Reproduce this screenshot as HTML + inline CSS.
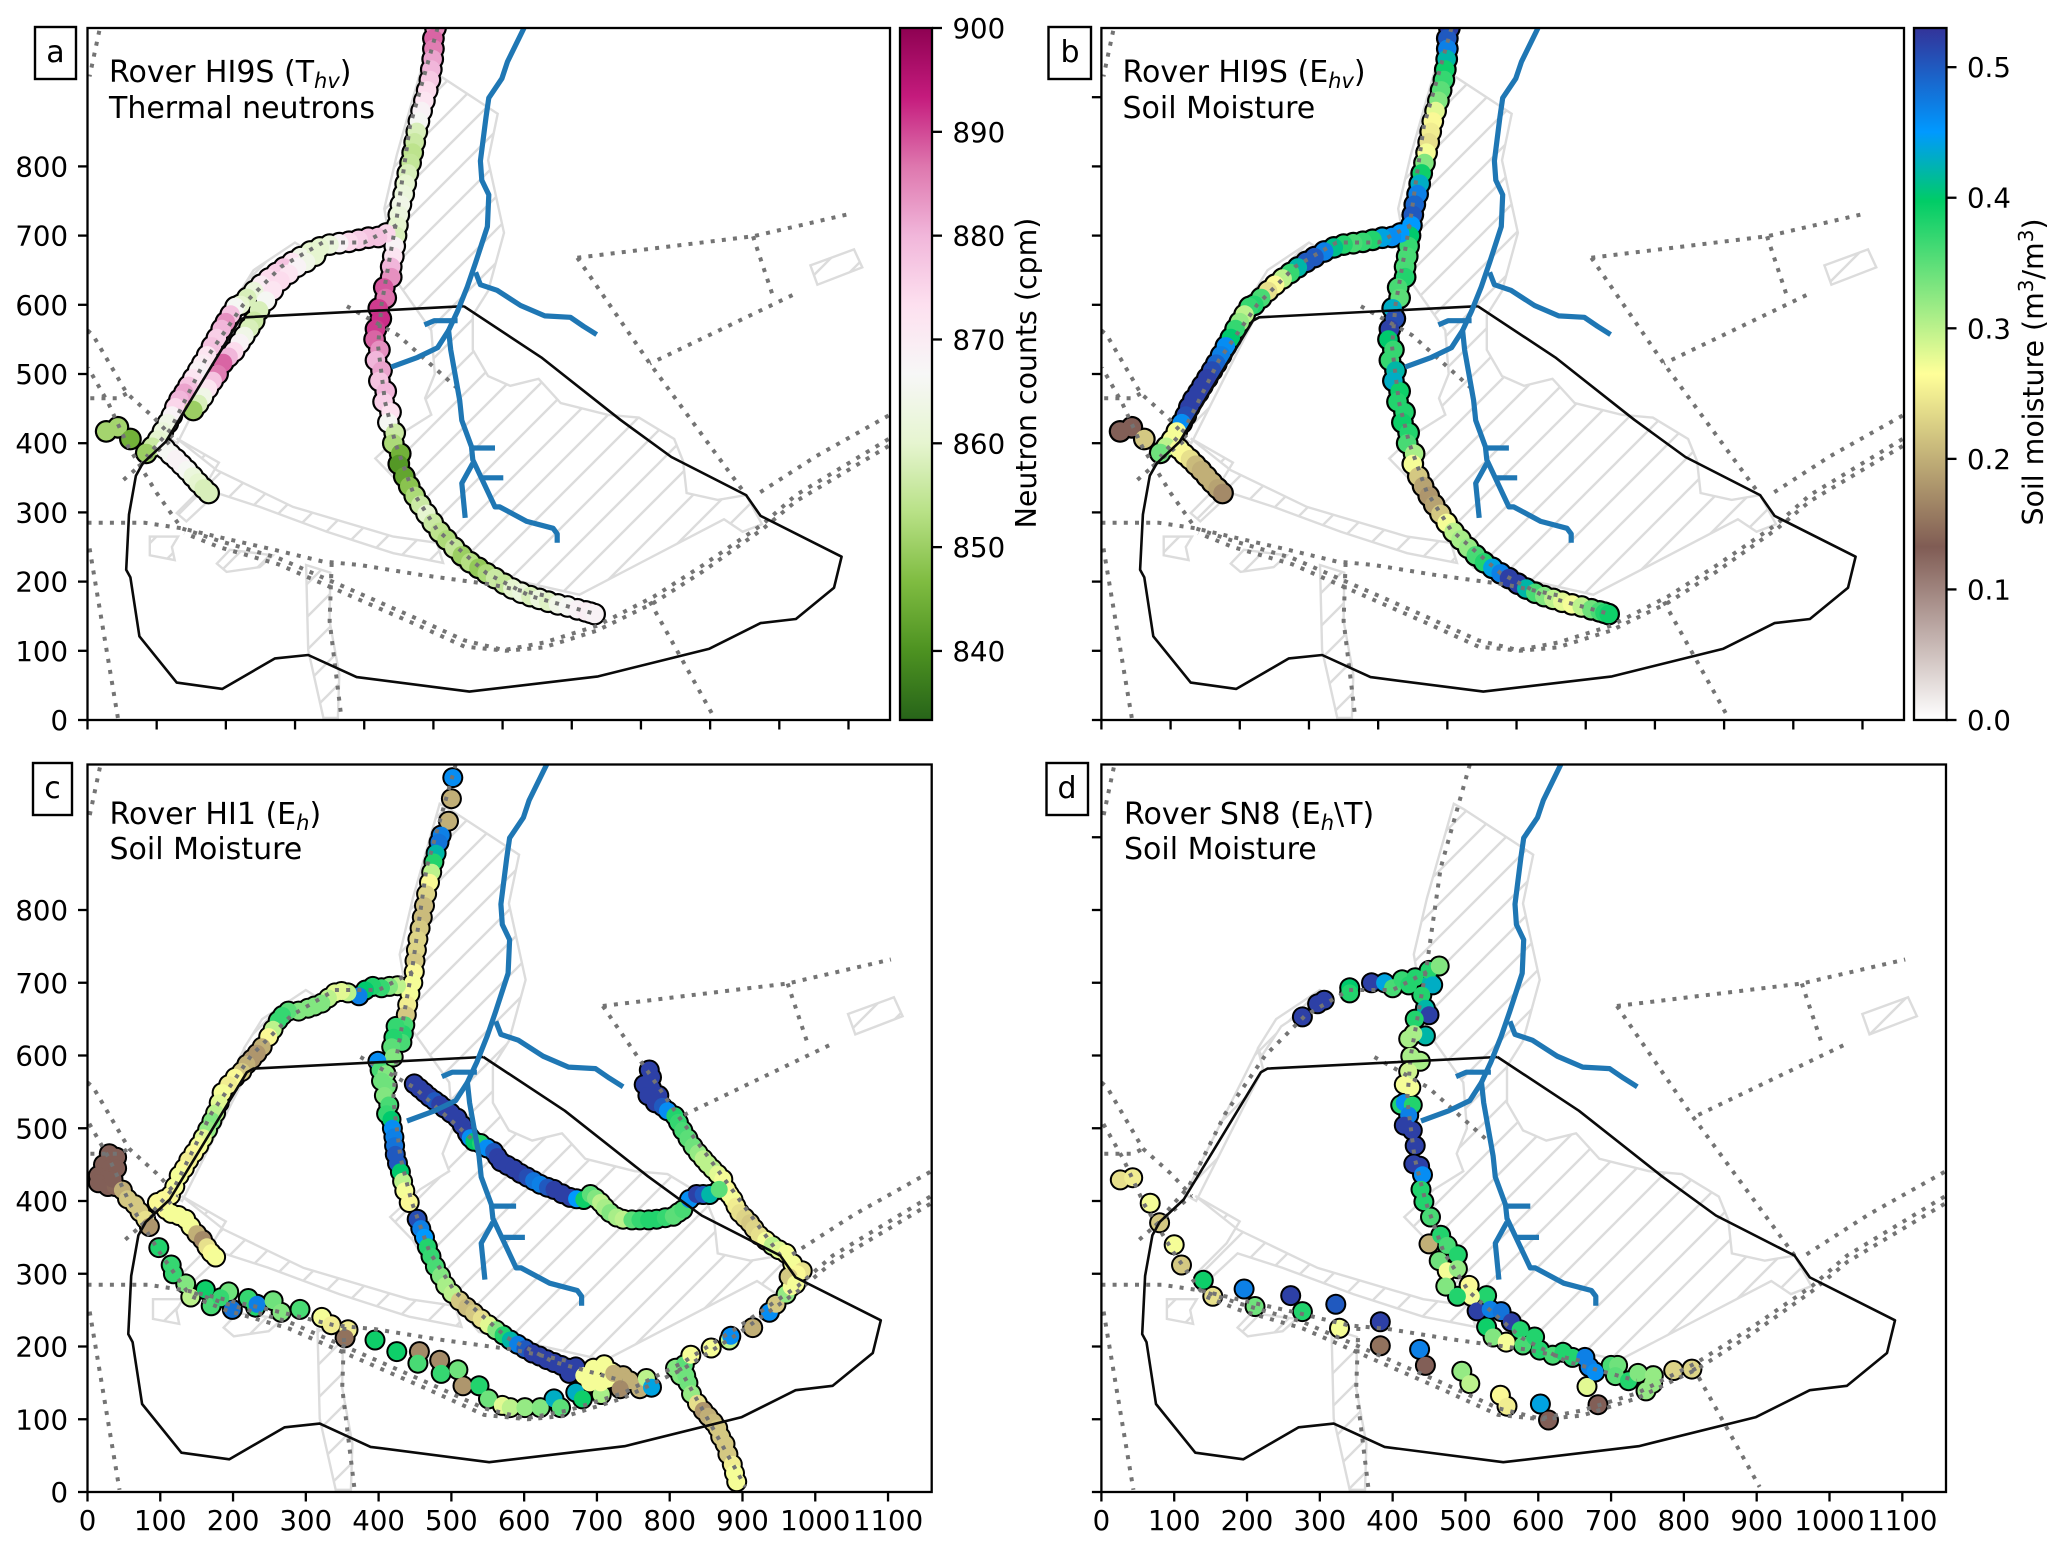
<!DOCTYPE html>
<html>
<head>
<meta charset="utf-8">
<title>Rover soil moisture maps</title>
<style>
html,body{margin:0;padding:0;background:#fff}
svg{display:block}
text{font-family:"DejaVu Sans","Liberation Sans",sans-serif;font-size:27.6px;fill:#000}
text.big{font-size:30px}
text.cbt{font-size:28.4px}
</style>
</head>
<body>
<svg id="fig" xmlns="http://www.w3.org/2000/svg" width="2067" height="1551" viewBox="0 0 2067 1551">
<defs>
<pattern id="hatch" patternUnits="userSpaceOnUse" width="33" height="33">
<path d="M-3 3L3 -3M0 33L33 0M30 36L36 30" stroke="#dcdcdc" stroke-width="2.4" fill="none"/>
</pattern>
<linearGradient id="cmapNeutron" x1="0" y1="1" x2="0" y2="0"></linearGradient>
<linearGradient id="cmapSoil" x1="0" y1="1" x2="0" y2="0"></linearGradient>
</defs>
<g id="panels"></g>
<g id="colorbars"></g>

<g>
<rect x="35" y="27" width="41" height="52" fill="#fff" stroke="#000" stroke-width="2.4"/>
<text class="big" x="55.5" y="62" text-anchor="middle">a</text>
<text class="big" x="109" y="82">Rover HI9S (T<tspan dy="6" font-size="21" font-style="italic">hv</tspan><tspan dy="-6">)</tspan></text>
<text class="big" x="109" y="118">Thermal neutrons</text>
</g>
<g>
<rect x="1048.5" y="27" width="42.5" height="52" fill="#fff" stroke="#000" stroke-width="2.4"/>
<text class="big" x="1070" y="62" text-anchor="middle">b</text>
<text class="big" x="1122.5" y="82">Rover HI9S (E<tspan dy="6" font-size="21" font-style="italic">hv</tspan><tspan dy="-6">)</tspan></text>
<text class="big" x="1122.5" y="118">Soil Moisture</text>
</g>
<g>
<rect x="33" y="763" width="39" height="52" fill="#fff" stroke="#000" stroke-width="2.4"/>
<text class="big" x="52.5" y="798" text-anchor="middle">c</text>
<text class="big" x="109.5" y="824">Rover HI1 (E<tspan dy="6" font-size="21" font-style="italic">h</tspan><tspan dy="-6">)</tspan></text>
<text class="big" x="109.5" y="859">Soil Moisture</text>
</g>
<g>
<rect x="1046.5" y="763" width="41.5" height="52" fill="#fff" stroke="#000" stroke-width="2.4"/>
<text class="big" x="1067" y="798" text-anchor="middle">d</text>
<text class="big" x="1124" y="824">Rover SN8 (E<tspan dy="6" font-size="21" font-style="italic">h</tspan><tspan dy="-6">\T)</tspan></text>
<text class="big" x="1124" y="859">Soil Moisture</text>
</g>
<text class="cbt" transform="translate(1036,373) rotate(-90)" text-anchor="middle">Neutron counts (cpm)</text>
<text class="cbt" transform="translate(2043,372) rotate(-90)" text-anchor="middle">Soil moisture (m<tspan dy="-10" font-size="20">3</tspan><tspan dy="10">/m</tspan><tspan dy="-10" font-size="20">3</tspan><tspan dy="10">)</tspan></text>
</svg>

<script>
// ---------- shared axis ticks ----------
const xTickValues = [0,100,200,300,400,500,600,700,800,900,1000,1100];
const yTickValues = [0,100,200,300,400,500,600,700,800];
const neutronTicks = [840,850,860,870,880,890,900];
const soilTicks = [0,0.1,0.2,0.3,0.4,0.5];
const neutronMin = 833.35, neutronMax = 900, soilMin = 0, soilMax = 0.53;

// ---------- map features (map metres, flat x,y lists) ----------
const boundaryLine = [544,598,228,582,219,577,113,402,80,371,70,353,60,297,56,217,62,206,75,121,129,54,195,45,238,70,271,89,319,94,389,62,552,41,738,63,899,103,973,140,1024,146,1079,191,1090,236,973,295,952,325,844,380,770,434,656,524,544,598];
const riverMain = [631,1000,607,951,599,927,580,899,576,871,568,808,570,780,580,759,578,713,561,661,549,626,535,591,522,563,525,535,538,462,541,433,555,395,557,376,589,308,596,308,635,287,673,277,679,269,679,256];
const riverEast = [561,647,568,629,592,621,626,599,661,584,698,582,717,569,736,557];
const riverWest = [522,563,506,538,477,524,439,510];
const riverStubA = [487,571,501,577,535,577];
const riverStubB = [556,393,589,393];
const riverStubC = [570,350,601,350];
const riverSouth = [557,371,541,342,546,292];
const roadList = [
 [1158,406,1024,325,976,283,890,224,818,178,736,136,660,112,602,101,545,115,468,150,372,192,276,234,190,259,136,277,100,328,59,395,30,458,1,509],
 [1158,396,1024,316,976,276,890,215,818,169,736,129,660,105,605,100,545,106,468,141,372,183,276,225,190,250,140,270],
 [1158,440,1053,381,966,325],
 [0,563,8,556,57,472,95,438,124,407],
 [4,465,44,465,57,472],
 [52,347,90,380,124,407],
 [0,285,83,285,136,277,200,262,270,246,340,229,394,224,480,210,538,202,583,196,660,180],
 [3,248,44,3],
 [17,996,3,930],
 [353,227,350,143,367,3],
 [813,171,904,7],
 [375,598,449,556,535,479],
 [708,668,962,699,1104,732],
 [962,699,990,615],
 [1019,614,813,515],
 [708,668,813,515,952,325],
 [506,1000,466,858,447,725,425,600,420,540,430,460,445,400,470,330,505,275,577,212,640,179,735,153],
 [447,715,400,690,340,690,280,655,225,600,170,520,120,420,85,380]
];
const hatchList = [
 [484,946,497,939,561,897,593,876,579,809,602,704,579,620,557,585,557,535,579,497,611,483,652,493,684,458,752,441,797,437,848,406,861,374,866,328,911,318,952,325,975,283,947,272,920,290,711,181,538,220,484,283,447,346,416,378,457,416,497,441,488,465,502,500,497,563,447,634,429,739,447,816],
 [129,407,187,361,297,308,442,265,505,256,514,227,442,241,346,272,249,308,187,328,143,287,129,299,172,342,190,372],
 [90,265,131,265,122,250,126,231,90,238],
 [187,226,206,246,268,238,249,221,201,214],
 [316,224,351,213,350,143,364,66,362,3,341,3,319,101],
 [1045,657,1108,680,1120,654,1055,629],
 [115,409,215,609,222,582,130,400],
 [220,599,247,640,311,683,300,690,240,650,215,610]
];

// ---------- Rover HI9S route (panels a and b) ----------
const mainX = [503,500,500,499,497,495,491,487,483,479,
 476,473,470,467,463,460,457,453,450,448,
 446,444,442,439,439,429,431,421,424,417,
 415,422,417,425,422,431,428,438,435,444,
 442,452,450,458,465,473,481,490,499,509,
 519,530,541,553,565,577,589,602,614,627,
 640,653,666,680,694,708,720,727,733];
const mainY = [1000,985,970,955,940,925,910,895,880,865,
 850,835,820,805,790,775,760,745,730,715,
 700,685,670,655,640,625,610,595,580,565,
 550,535,520,505,490,475,460,445,430,415,
 400,385,370,352,338,324,311,298,285,272,
 261,249,238,228,220,212,205,197,190,184,
 179,175,171,167,164,160,157,155,153];
const thermalMain = [884,888,886,882,880,877,874,872,868,866,
 858,856,854,855,858,860,862,864,862,860,
 858,868,872,880,884,889,887,891,892,891,
 888,884,880,882,878,880,876,873,866,856,
 852,845,841,843,848,852,856,860,856,854,
 852,855,850,853,849,852,856,855,860,862,
 858,862,859,864,866,868,870,869,868];
const soilMainB = [.52,.5,.47,.42,.39,.37,.35,.33,.28,.26,
 .25,.24,.27,.33,.39,.43,.47,.49,.5,.45,
 .4,.37,.36,.36,.38,.36,.35,.43,.51,.52,
 .4,.37,.37,.42,.43,.39,.38,.38,.39,.38,
 .36,.31,.27,.22,.19,.18,.19,.22,.27,.3,
 .31,.32,.36,.38,.44,.47,.52,.52,.42,.36,
 .33,.3,.28,.27,.3,.34,.36,.38,.39];
const westX = [432,420,406,392,378,364,350,336,322,308,
 296,284,273,262,251,241,231,221,214,207,
 200,194,187,180,173,166,160,153,146,140,
 133,127,122,116,109,102,94,85];
const westY = [703,698,697,694,691,689,687,683,677,669,
 662,654,646,638,629,620,610,600,597,586,
 575,565,552,540,527,515,505,494,483,473,
 463,452,440,429,417,405,395,386];
const thermalWest = [875,878,878,876,874,868,862,860,860,864,
 872,878,876,874,870,862,858,860,866,878,
 884,880,876,878,872,870,868,872,878,882,
 880,875,868,864,862,860,856,850];
const soilWestB = [.45,.46,.44,.38,.37,.36,.38,.41,.47,.5,
 .5,.42,.37,.3,.26,.24,.36,.38,.37,.3,
 .32,.37,.4,.46,.47,.49,.51,.52,.52,.52,
 .52,.52,.51,.46,.27,.27,.3,.34];
const spurX = [112,120,128,136,144,152,160,168,175];
const spurY = [392,384,377,369,361,352,343,335,328];
const thermalSpur = [866,866,868,868,866,862,860,858,858];
const soilSpurB = [.27,.26,.24,.21,.2,.2,.2,.19,.17];
const isoX = [27,44,62];
const isoY = [417,423,406];
const thermalIso = [851,851,845];
const soilIsoB = [.13,.13,.22];
const lowerX = [329,316,303,291,279,268,258,248,241,234,227,220,212,204,196,188,181,174,167,160,153];
const lowerY = [671,662,655,645,635,621,606,592,577,566,555,545,533,525,516,500,490,479,467,457,448];
const thermalLower = [860,864,868,872,874,872,866,858,856,858,864,868,874,880,888,886,878,872,864,858,850];

// ---------- Rover HI1 (panel c) ----------
const cMainX = [502,500,496,486,483,479,476,473,470,466,
 463,460,457,454,452,450,449,447,443,440,
 438,436,434,432,424,421,418,420,399,402,
 410,404,412,408,414,411,417,419,421,422,
 423,426,430,433,436,442,453,458,463,467,
 472,478,485,492,501,511,521,531,541,551,
 561,571,581,591,601,611,621,631,641,651,661,671,662];
const cMainY = [982,953,922,903,893,878,866,852,838,822,
 806,790,775,760,745,730,715,700,685,670,
 656,642,630,618,640,625,612,598,592,580,
 575,565,558,545,532,520,512,500,488,476,
 464,452,440,427,414,398,375,362,350,337,
 324,310,297,284,273,263,254,246,238,230,
 223,216,209,203,197,191,187,182,178,174,170,172,163];
const cMainV = [.46,.2,.2,.47,.48,.42,.38,.3,.26,.23,
 .21,.21,.22,.23,.23,.22,.26,.27,.27,.25,
 .22,.36,.38,.36,.37,.38,.35,.33,.46,.36,
 .33,.34,.34,.33,.36,.37,.4,.46,.47,.48,
 .5,.5,.4,.3,.27,.26,.51,.47,.45,.38,
 .37,.36,.33,.31,.3,.22,.21,.22,.24,.28,
 .33,.38,.42,.47,.5,.52,.52,.52,.52,.52,.52,.52,.52];
const cWestX = [426,415,404,392,382,373,358,349,340,331,
 322,312,303,290,276,268,262,255,249,240,
 233,226,219,212,203,194,185,181,176,171,
 165,159,153,146,139,133,126,120,114,105,96];
const cWestY = [696,695,693,695,690,682,686,688,686,679,
 672,668,665,661,661,655,648,636,626,612,
 603,595,588,578,570,560,549,535,521,510,
 498,487,476,466,456,445,435,420,408,402,398];
const cWestV = [.3,.33,.37,.38,.4,.47,.3,.28,.28,.3,
 .33,.33,.33,.33,.35,.37,.37,.3,.26,.2,
 .18,.18,.2,.22,.26,.25,.27,.28,.3,.33,
 .32,.28,.27,.26,.25,.26,.27,.27,.26,.26,.26];
const cBlobX = [40,30,22,30,40,15,25,15,28,38,35,48,55,65,72,80,85,
 108,115,125,135,142,150,158,164,170,176];
const cBlobY = [460,465,450,445,445,435,430,425,420,420,430,415,403,395,385,375,365,
 388,383,380,375,365,355,347,337,329,323];
const cBlobV = [.13,.13,.13,.13,.13,.13,.13,.13,.13,.14,.13,.2,.22,.22,.22,.24,.18,
 .26,.27,.27,.27,.27,.2,.17,.24,.26,.27];
const cSouthX = [98,115,118,135,142,162,170,194,183,199,
 221,231,233,255,266,292,322,335,358,354,
 395,425,456,454,484,486,509,516,538,551,
 570,581,601,622,641,650,671,680,706,682,
 695,710,705,690,715,720,736,745,732,759,768,775,723];
const cSouthY = [336,312,300,286,268,278,256,275,267,251,
 266,254,258,263,247,251,240,230,223,212,
 209,193,193,177,181,163,168,146,146,128,
 119,116,116,116,128,116,137,128,134,160,
 170,175,150,150,155,165,160,153,142,142,156,144,163];
const cSouthV = [.38,.37,.37,.33,.3,.39,.36,.34,.37,.48,
 .37,.38,.47,.34,.33,.36,.27,.25,.25,.15,
 .39,.39,.17,.36,.17,.37,.34,.18,.38,.34,
 .28,.3,.32,.33,.43,.35,.43,.39,.31,.27,
 .27,.27,.27,.27,.27,.27,.2,.2,.17,.2,.3,.44,.2];
const cDownX = [808,820,815,825,822,830,838,846,853,860,866,870,876,880,886,889,892];
const cDownY = [170,175,160,150,160,135,122,112,104,96,88,76,66,52,38,26,14];
const cDownV = [.33,.35,.33,.34,.34,.32,.24,.18,.2,.21,.22,.22,.22,.22,.25,.27,.27];
const cArcX = [829,857,882,884,914,937,946,960,967];
const cArcY = [188,198,209,214,226,247,258,272,282];
const cArcV = [.27,.27,.3,.46,.2,.46,.22,.32,.27];
const cNorthEastX = [772,775,765,775,785,770,780,790,797,807,
 812,818,825,832,839,846,852,859,866,873,
 878,882,887,891,896,903,910,916,923,932,
 941,950,960,969,982,975,964,973];
const cNorthEastY = [580,570,560,555,545,545,535,530,524,517,
 508,497,486,475,466,458,451,444,437,430,
 416,409,402,393,384,377,370,362,353,346,
 339,333,328,314,304,300,296,286];
const cNorthEastV = [.52,.52,.52,.52,.52,.52,.52,.5,.46,.38,
 .37,.36,.35,.34,.32,.3,.3,.3,.28,.27,
 .26,.26,.27,.25,.24,.23,.22,.23,.24,.27,
 .3,.28,.27,.27,.24,.26,.22,.27];
const cMiddleX = [449,456,463,470,477,484,490,499,508,515,
 522,526,531,540,549,558,563,568,577,586,
 595,604,613,622,632,641,652,663,672,682,
 691,698,705,711,718,727,736,748,759,771,
 782,794,805,812,818,827,837,846,855,868];
const cMiddleY = [561,555,549,543,538,533,528,521,514,504,
 493,487,482,479,473,468,461,454,449,444,
 438,433,428,423,419,416,410,405,403,402,
 409,404,398,391,384,378,375,374,374,374,
 375,377,379,384,388,402,409,409,409,416];
const cMiddleV = [.52,.52,.52,.52,.5,.52,.52,.52,.52,.52,
 .52,.46,.4,.38,.46,.5,.52,.52,.52,.52,
 .52,.51,.48,.47,.5,.52,.52,.52,.45,.39,
 .35,.33,.3,.31,.33,.31,.3,.35,.37,.38,
 .38,.37,.35,.35,.36,.46,.52,.5,.42,.35];

// ---------- Rover SN8 (panel d) ----------
const dX = [26,43,67,80,100,110,140,153,196,211,
 260,276,322,327,383,383,437,445,495,506,
 548,557,603,614,682,667,276,297,306,341,
 341,371,389,400,413,422,431,452,450,464,
 455,440,445,450,431,445,422,429,425,438,
 422,416,425,411,416,427,422,416,427,431,
 429,437,441,439,443,452,450,466,475,489,
 464,475,489,473,505,529,508,489,516,534,
 549,563,529,538,556,575,579,595,602,620,
 634,647,664,670,678,700,709,706,724,737,
 748,758,757,786,811];
const dY = [429,432,397,370,340,312,291,269,279,255,
 270,248,258,225,234,201,196,174,166,149,
 133,118,121,99,120,145,653,671,676,693,
 686,700,700,693,704,697,707,700,717,723,
 697,683,665,656,650,627,623,630,599,592,
 578,560,556,532,535,532,518,504,497,476,
 451,448,436,416,399,378,341,353,339,326,
 318,304,307,283,284,270,269,269,249,251,
 248,234,227,213,206,223,202,213,195,188,
 192,185,185,172,165,174,174,160,153,163,
 139,160,149,167,169];
const dV = [.24,.25,.27,.22,.27,.22,.39,.24,.47,.34,
 .52,.38,.5,.27,.52,.15,.47,.13,.32,.3,
 .26,.25,.44,.13,.13,.28,.52,.52,.52,.4,
 .38,.52,.44,.36,.37,.38,.38,.42,.38,.33,
 .43,.38,.42,.52,.38,.42,.31,.31,.31,.31,
 .29,.27,.27,.38,.46,.38,.47,.52,.52,.52,
 .52,.52,.46,.38,.38,.36,.2,.38,.36,.38,
 .34,.27,.32,.33,.26,.38,.27,.38,.52,.47,
 .48,.52,.39,.33,.27,.38,.36,.38,.38,.36,
 .38,.38,.47,.47,.46,.36,.34,.35,.38,.33,
 .32,.32,.32,.23,.23];

// ---------- colormaps ----------
const neutronColors = ['#276419','#4d9221','#7fbc41','#b8e186','#e6f5d0','#f7f7f7','#fde0ef','#f1b6da','#de77ae','#c51b7d','#8e0152'];
const soilStops = [0,0.1325,0.265,0.3975,0.4505,0.53];
const soilColors = ['#ffffff','#805c54','#ffff99','#00cc66','#0099ff','#333399'];

const NS = 'http://www.w3.org/2000/svg';
function mk(tag, attrs, parent){
  const el = document.createElementNS(NS, tag);
  for(const k in attrs){ el.setAttribute(k, attrs[k]); }
  if(parent){ parent.appendChild(el); }
  return el;
}
function hexRgb(h){ return [1,3,5].map(i=>parseInt(h.substr(i,2),16)); }
function mixStops(v, stops, cols){
  const c = Math.max(stops[0], Math.min(stops[stops.length-1], v));
  let i = 0;
  while(i < stops.length-2 && c > stops[i+1]){ i++; }
  const t = (c-stops[i])/(stops[i+1]-stops[i]);
  const a = hexRgb(cols[i]), b = hexRgb(cols[i+1]);
  return 'rgb('+a.map((x,j)=>Math.round(x+(b[j]-x)*t)).join(',')+')';
}
const neutronStops = neutronColors.map((_,i)=>neutronMin+(neutronMax-neutronMin)*i/(neutronColors.length-1));
function neutronColor(v){ return mixStops(v, neutronStops, neutronColors); }
function soilColor(v){ return mixStops(v, soilStops, soilColors); }

const gradN = document.getElementById('cmapNeutron');
neutronColors.forEach((c,i)=>{ mk('stop',{offset:i/(neutronColors.length-1),'stop-color':c},gradN); });
const gradS = document.getElementById('cmapSoil');
soilStops.forEach((s,i)=>{ mk('stop',{offset:s/soilMax,'stop-color':soilColors[i]},gradS); });

const panelDefs = [
 {id:'a', left:87.5, right:890, top:28, bottom:720, yLabels:true, xLabels:false, tickTop:false, color:neutronColor, outer:11.4, inner:9.2,
  series:[[mainX,mainY,thermalMain],[westX,westY,thermalWest],[lowerX,lowerY,thermalLower],[spurX,spurY,thermalSpur],[isoX,isoY,thermalIso]]},
 {id:'b', left:1101.4, right:1904, top:28, bottom:720, yLabels:false, xLabels:false, tickTop:true, color:soilColor, outer:11.4, inner:9.2,
  series:[[mainX,mainY,soilMainB],[westX,westY,soilWestB],[spurX,spurY,soilSpurB],[isoX,isoY,soilIsoB]]},
 {id:'c', left:87.5, right:931.7, top:764.5, bottom:1492, yLabels:true, xLabels:true, tickTop:false, color:soilColor, outer:10.5, inner:8.5,
  series:[[cMainX,cMainY,cMainV],[cWestX,cWestY,cWestV],[cBlobX,cBlobY,cBlobV],[cSouthX,cSouthY,cSouthV],[cDownX,cDownY,cDownV],[cArcX,cArcY,cArcV],[cNorthEastX,cNorthEastY,cNorthEastV],[cMiddleX,cMiddleY,cMiddleV]]},
 {id:'d', left:1101.4, right:1946, top:764.5, bottom:1492, yLabels:false, xLabels:true, tickTop:true, color:soilColor, outer:10.5, inner:8.5,
  series:[[dX,dY,dV]]}
];
const defs = document.querySelector('#fig defs');
const panelsG = document.getElementById('panels');

function drawPanel(p){
  const sx = x => p.left + x/1160*(p.right-p.left);
  const sy = y => p.bottom - y/1000*(p.bottom-p.top);
  const pts = f => { let s=''; for(let i=0;i<f.length;i+=2){ s+=sx(f[i]).toFixed(1)+','+sy(f[i+1]).toFixed(1)+' '; } return s; };
  const clip = mk('clipPath',{id:'clip-'+p.id},defs);
  mk('rect',{x:p.left,y:p.top,width:p.right-p.left,height:p.bottom-p.top},clip);
  const g = mk('g',{},panelsG);
  
  
  const plot = mk('g',{'clip-path':'url(#clip-'+p.id+')'},g);
  
  

  hatchList.forEach(h=>{
    const poly = mk('polygon',{points:pts(h),fill:'url(#hatch)',stroke:'#dcdcdc','stroke-width':2.4},plot);
    
    
  });

  const edges = mk('g',{fill:'#000'},plot);
  
  
  const fills = mk('g',{},plot);
  
  
  p.series.forEach(s=>{
    const xs=s[0], ys=s[1], vs=s[2];
    for(let i=0;i<xs.length;i++){
      mk('circle',{cx:sx(xs[i]).toFixed(1),cy:sy(ys[i]).toFixed(1),r:p.outer},edges);
      const m = mk('circle',{cx:sx(xs[i]).toFixed(1),cy:sy(ys[i]).toFixed(1),r:p.inner,fill:p.color(vs[i])},fills);
      
      
    }
  });

  roadList.forEach(r=>{
    const l = mk('polyline',{points:pts(r),fill:'none',stroke:'#747474','stroke-width':4,'stroke-dasharray':'4 7.2'},plot);
    
    
  });
  const bd = mk('polyline',{points:pts(boundaryLine),fill:'none',stroke:'#0a0a0a','stroke-width':2.6,'stroke-linejoin':'round'},plot);
  
  
  [riverMain,riverEast,riverWest,riverStubA,riverStubB,riverStubC,riverSouth].forEach(r=>{
    const l = mk('polyline',{points:pts(r),fill:'none',stroke:'#1f77b4','stroke-width':5.2,'stroke-linejoin':'round'},plot);
    
    
  });

  const frame = mk('rect',{x:p.left,y:p.top,width:p.right-p.left,height:p.bottom-p.top,fill:'none',stroke:'#000','stroke-width':2.3},g);
  
  

  xTickValues.forEach(v=>{
    const t = mk('line',{x1:sx(v),x2:sx(v),y1:p.bottom,y2:p.bottom+9.5,stroke:'#000','stroke-width':2.3},g);
    
    
    if(p.xLabels){
      const lab = mk('text',{x:sx(v),y:p.bottom+38,'text-anchor':'middle'},g);
      lab.textContent = String(v);
      
      
    }
  });
  const ys = p.tickTop ? yTickValues.concat([900]) : yTickValues;
  ys.forEach(v=>{
    const t = mk('line',{x1:p.left-9.5,x2:p.left,y1:sy(v),y2:sy(v),stroke:'#000','stroke-width':2.3},g);
    
    
    if(p.yLabels){
      const lab = mk('text',{x:p.left-19.5,y:sy(v)+10,'text-anchor':'end'},g);
      lab.textContent = String(v);
      
      
    }
  });
}
panelDefs.forEach(drawPanel);

function drawColorbar(left, right, grad, ticks, vmin, vmax, fmt, name){
  const top = 28, bottom = 720;
  const sy = v => bottom - (v-vmin)/(vmax-vmin)*(bottom-top);
  const host = document.getElementById('colorbars');
  const g = mk('g',{},host);
  
  
  mk('rect',{x:left,y:top,width:right-left,height:bottom-top,fill:'url(#'+grad+')',stroke:'#000','stroke-width':2.3},g);
  ticks.forEach(v=>{
    const t = mk('line',{x1:right,x2:right+10,y1:sy(v),y2:sy(v),stroke:'#000','stroke-width':2.3},g);
    
    
    const lab = mk('text',{x:right+20.5,y:sy(v)+10},g);
    lab.textContent = fmt(v);
    
    
  });
}
drawColorbar(900,932,'cmapNeutron',neutronTicks,neutronMin,neutronMax,v=>String(v),'neutron-colorbar');
drawColorbar(1914,1946.5,'cmapSoil',soilTicks,soilMin,soilMax,v=>v.toFixed(1),'soil-colorbar');
</script>
</body>
</html>
